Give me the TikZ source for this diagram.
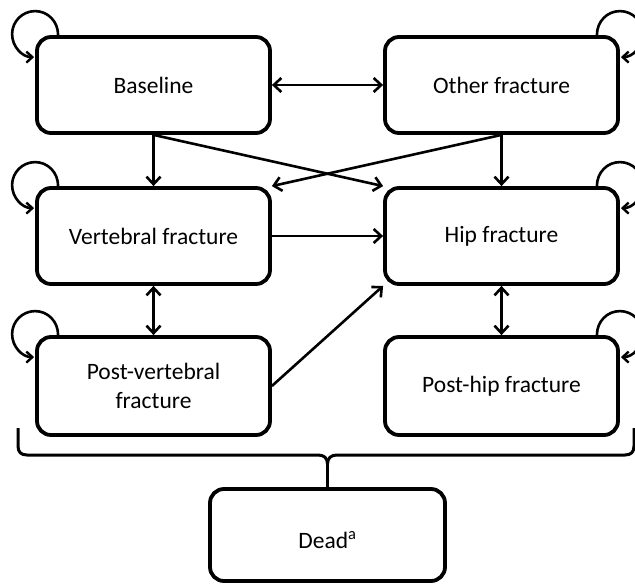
\documentclass[tikz,border=0pt]{standalone}
\usepackage{fontspec}
\setmainfont{Carlito}
\usetikzlibrary{arrows.meta,calc}
\tikzset{
  stbox/.style={draw=black, line width=3.8pt, rounded corners=14pt, fill=white,
    minimum width=233pt, minimum height=96pt, inner sep=0pt, align=center,
    font=\fontsize{23.5}{29}\selectfont},
  conn/.style={line width=2.6pt, -{Straight Barb[length=7.5pt,width=14pt,line width=2.6pt]}},
  bconn/.style={line width=2.6pt, {Straight Barb[length=7.5pt,width=14pt,line width=2.6pt]}-{Straight Barb[length=7.5pt,width=14pt,line width=2.6pt]}},
  loopline/.style={line width=2.6pt, -{Straight Barb[length=6pt,width=11pt,line width=2.4pt]}},
  bracel/.style={line width=3pt}
}
\newcommand{\loopL}[1]{%
  \begin{scope}[shift={(#1.north west)}]
    \draw[loopline] (23,0) .. controls (23,-13.7) and (12.7,-24) .. (0,-24)
      .. controls (-12.7,-24) and (-23,-13.7) .. (-23,-1)
      .. controls (-23,11.7) and (-12.7,22) .. (-1,22);
  \end{scope}}
\newcommand{\loopR}[1]{%
  \begin{scope}[shift={(#1.north east)}]
    \draw[loopline] (-23,0) .. controls (-23,-13.7) and (-12.7,-24) .. (0,-24)
      .. controls (12.7,-24) and (23,-13.7) .. (23,-1)
      .. controls (23,11.7) and (12.7,22) .. (1,22);
  \end{scope}}
\begin{document}
\begin{tikzpicture}[x=1pt,y=-1pt]
\useasboundingbox (0,0) rectangle (635,584);
\fill[white] (0,0) rectangle (635,584);

\node[stbox] (B) at (153.5,85) {Baseline};
\node[stbox] (O) at (501.5,85) {Other fracture};
\node[stbox] (V) at (153.5,236) {Vertebral fracture};
\node[stbox] (H) at (501.5,236) {Hip fracture};
\node[stbox, minimum height=98pt] (PV) at (153.5,386) {Post-vertebral\\fracture};
\node[stbox, minimum height=98pt] (PH) at (501.5,386) {Post-hip fracture};
\node[stbox, minimum width=235pt, minimum height=92pt, text height=27pt, text depth=0pt] (D) at (327.5,535) {Dead\textsuperscript{a}};

% self loops
\loopL{B}
\loopL{V}
\loopL{PV}
\loopR{O}
\loopR{H}
\loopR{PH}

% connectors
\draw[bconn] (B.east) -- (O.west);
\draw[conn] (B.south) -- (V.north);
\draw[conn] (O.south) -- (H.north);
\draw[conn] (B.south) -- (H.north west);
\draw[conn] (O.south) -- (V.north east);
\draw[conn] (V.east) -- (H.west);
\draw[bconn] (V.south) -- (PV.north);
\draw[bconn] (H.south) -- (PH.north);
\draw[conn] (PV.east) -- (H.south west);

% brace
\coordinate (bl) at (18,428);
\coordinate (br) at (634,428);
\coordinate (bt) at (327.5,464);
\draw[bracel] (bl) -- (18,446) .. controls (18,452) and (21,455) .. (27,455)
  -- (318,455) .. controls (324,455) and (327.5,458) .. (bt);
\draw[bracel] (br) -- (634,446) .. controls (634,452) and (631,455) .. (625,455)
  -- (337,455) .. controls (331,455) and (327.5,458) .. (bt);
\draw[bracel] (bt) -- (D.north);
\end{tikzpicture}
\end{document}
